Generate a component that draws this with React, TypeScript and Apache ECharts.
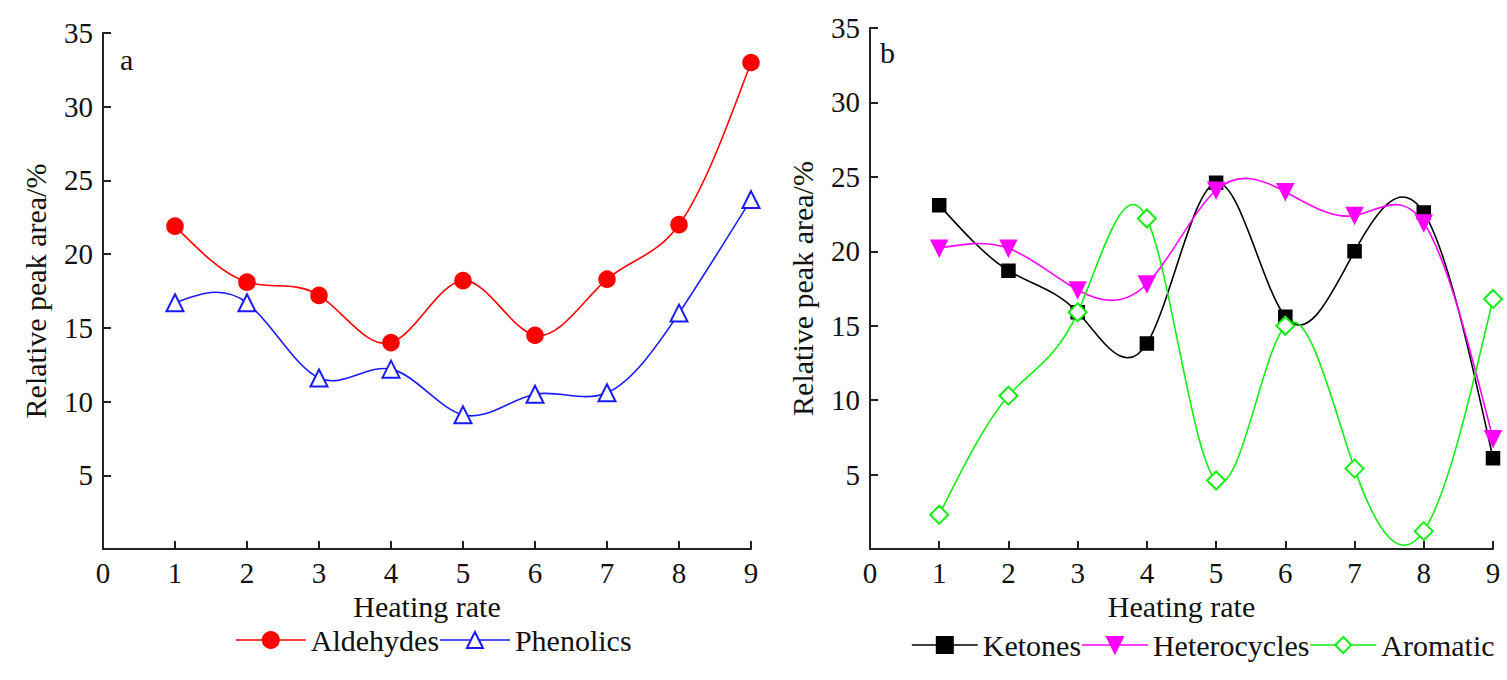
import React, { useEffect, useRef } from "react";
import * as echarts from "echarts";

const heatingRate = [1, 2, 3, 4, 5, 6, 7, 8, 9];

// panel a
const aldehydes = [21.9, 18.1, 17.2, 14.0, 18.2, 14.5, 18.3, 22.0, 33.0];
const phenolics = [16.7, 16.7, 11.6, 12.2, 9.1, 10.5, 10.6, 16.0, 23.7];

// panel b
const ketones = [23.1, 18.7, 15.9, 13.8, 24.6, 15.6, 20.0, 22.6, 6.1];
const heterocycles = [20.2, 20.2, 17.4, 17.8, 24.1, 24.0, 22.4, 21.9, 7.4];
const aromatic = [2.3, 10.3, 15.9, 22.2, 4.6, 15.0, 5.4, 1.2, 16.8];

const FONT = "Liberation Serif";
const INK = "#111";

// slopes of a natural cubic spline at each node, used to draw the curve as beziers
const splineSlopes = (xs: number[], ys: number[]) => {
  const n = xs.length;
  const h = xs.slice(1).map((x, i) => x - xs[i]);
  const M = new Array(n).fill(0);
  const k = n - 2;
  if (k > 0) {
    const diag: number[] = [];
    const sup: number[] = [];
    const rhs: number[] = [];
    for (let j = 0; j < k; j++) {
      const i = j + 1;
      diag.push(2 * (h[i - 1] + h[i]));
      sup.push(h[i]);
      rhs.push(6 * ((ys[i + 1] - ys[i]) / h[i] - (ys[i] - ys[i - 1]) / h[i - 1]));
    }
    for (let j = 1; j < k; j++) {
      const w = h[j] / diag[j - 1];
      diag[j] -= w * sup[j - 1];
      rhs[j] -= w * rhs[j - 1];
    }
    const sol = new Array(k).fill(0);
    sol[k - 1] = rhs[k - 1] / diag[k - 1];
    for (let j = k - 2; j >= 0; j--) sol[j] = (rhs[j] - sup[j] * sol[j + 1]) / diag[j];
    for (let j = 0; j < k; j++) M[j + 1] = sol[j];
  }
  const m: number[] = [];
  for (let i = 0; i < n - 1; i++) {
    m.push((ys[i + 1] - ys[i]) / h[i] - (h[i] * (2 * M[i] + M[i + 1])) / 6);
  }
  const L = n - 1;
  m.push((ys[L] - ys[L - 1]) / h[L - 1] + (h[L - 1] * (M[L - 1] + 2 * M[L])) / 6);
  return m;
};

const curve = (ys: number[], color: string, idx: number) => {
  const xs = heatingRate;
  const slopes = splineSlopes(xs, ys);
  return {
    type: "custom",
    xAxisIndex: idx,
    yAxisIndex: idx,
    z: 1,
    silent: true,
    data: xs.map((x, i) => [x, ys[i]]),
    renderItem: (params: any, api: any) => {
      const i = params.dataIndex;
      if (i >= xs.length - 1) return { type: "group", children: [] };
      const h = xs[i + 1] - xs[i];
      const p0 = api.coord([xs[i], ys[i]]);
      const p1 = api.coord([xs[i + 1], ys[i + 1]]);
      const c0 = api.coord([xs[i] + h / 3, ys[i] + (slopes[i] * h) / 3]);
      const c1 = api.coord([xs[i + 1] - h / 3, ys[i + 1] - (slopes[i + 1] * h) / 3]);
      const cs = params.coordSys;
      return {
        type: "bezierCurve",
        shape: {
          x1: p0[0], y1: p0[1], x2: p1[0], y2: p1[1],
          cpx1: c0[0], cpy1: c0[1], cpx2: c1[0], cpy2: c1[1],
        },
        style: { stroke: color, lineWidth: 1.6, fill: "none" },
        clipPath: { type: "rect", shape: { x: cs.x, y: cs.y, width: cs.width, height: cs.height } },
      };
    },
  };
};

const markers = (name: string, ys: number[], color: string, idx: number, symbol: string, size: number) => ({
  type: "line",
  name,
  xAxisIndex: idx,
  yAxisIndex: idx,
  z: 3,
  data: heatingRate.map((x, i) => [x, ys[i]]),
  symbol,
  symbolSize: size,
  lineStyle: { width: 0, color },
  itemStyle: { color, borderColor: color, borderWidth: 1.5 },
});

const xAxis = (idx: number) => ({
  type: "value",
  gridIndex: idx,
  min: 0,
  max: 9,
  interval: 1,
  name: "Heating rate",
  nameLocation: "middle",
  nameGap: 38,
  nameTextStyle: { fontFamily: FONT, fontSize: 30, color: INK },
  axisLine: { show: true, onZero: false, lineStyle: { color: "#222", width: 2 } },
  axisTick: { show: true, inside: true, length: 8, lineStyle: { color: "#222", width: 2 } },
  axisLabel: { fontFamily: FONT, fontSize: 29, color: INK, margin: 9 },
  splitLine: { show: false },
});

const yAxis = (idx: number) => ({
  type: "value",
  gridIndex: idx,
  min: 0,
  max: 35,
  interval: 5,
  name: "Relative peak area/%",
  nameLocation: "middle",
  nameGap: 53,
  nameTextStyle: { fontFamily: FONT, fontSize: 30, color: INK },
  axisLine: { show: true, onZero: false, lineStyle: { color: "#222", width: 2 } },
  axisTick: { show: true, inside: true, length: 8, lineStyle: { color: "#222", width: 2 } },
  axisLabel: {
    fontFamily: FONT,
    fontSize: 29,
    color: INK,
    margin: 10,
    formatter: (v: number) => (v === 0 ? "" : String(v)),
  },
  splitLine: { show: false },
});

const legendBase = {
  orient: "horizontal",
  itemHeight: 20,
  itemGap: 0,
  textStyle: { fontFamily: FONT, fontSize: 30, color: INK },
  lineStyle: { width: 1.6 },
};

const INV_TRIANGLE = "path://M0,0L10,0L5,9Z";

const App = () => {
  const chartRef = useRef<HTMLDivElement>(null);

  useEffect(() => {
    if (!chartRef.current) return;
    const chart = echarts.init(chartRef.current, undefined, { renderer: "svg" });

    const option: any = {
      animation: false,
      backgroundColor: "#fff",
      textStyle: { fontFamily: FONT },
      grid: [
        { left: 103, top: 33, width: 648, height: 516 },
        { left: 870, top: 28, width: 623, height: 521 },
      ],
      xAxis: [xAxis(0), xAxis(1)],
      yAxis: [yAxis(0), yAxis(1)],
      legend: [
        { ...legendBase, data: ["Aldehydes", "Phenolics"], left: 230, top: 620, itemWidth: 70 },
        { ...legendBase, data: ["Ketones", "Heterocycles", "Aromatic"], left: 906, top: 625, itemWidth: 66 },
      ],
      graphic: [
        { type: "text", left: 120, top: 44, style: { text: "a", fontFamily: FONT, fontSize: 30, fill: INK } },
        { type: "text", left: 880, top: 37, style: { text: "b", fontFamily: FONT, fontSize: 30, fill: INK } },
      ],
      series: [
        curve(aldehydes, "#ff0000", 0),
        curve(phenolics, "#1a1aff", 0),
        curve(ketones, "#000000", 1),
        curve(heterocycles, "#ff00ff", 1),
        curve(aromatic, "#11ee11", 1),
        markers("Aldehydes", aldehydes, "#ff0000", 0, "circle", 16),
        markers("Phenolics", phenolics, "#1a1aff", 0, "emptyTriangle", 17),
        markers("Ketones", ketones, "#000000", 1, "rect", 13),
        markers("Heterocycles", heterocycles, "#ff00ff", 1, INV_TRIANGLE, 16),
        markers("Aromatic", aromatic, "#11ee11", 1, "emptyDiamond", 18),
      ],
    };

    chart.setOption(option);

    return () => {
      chart.dispose();
    };
  }, []);

  return (
    <div
      ref={chartRef}
      style={{ position: "fixed", left: 0, top: 0, width: "1507px", height: "680px" }}
    />
  );
};

export default App;
